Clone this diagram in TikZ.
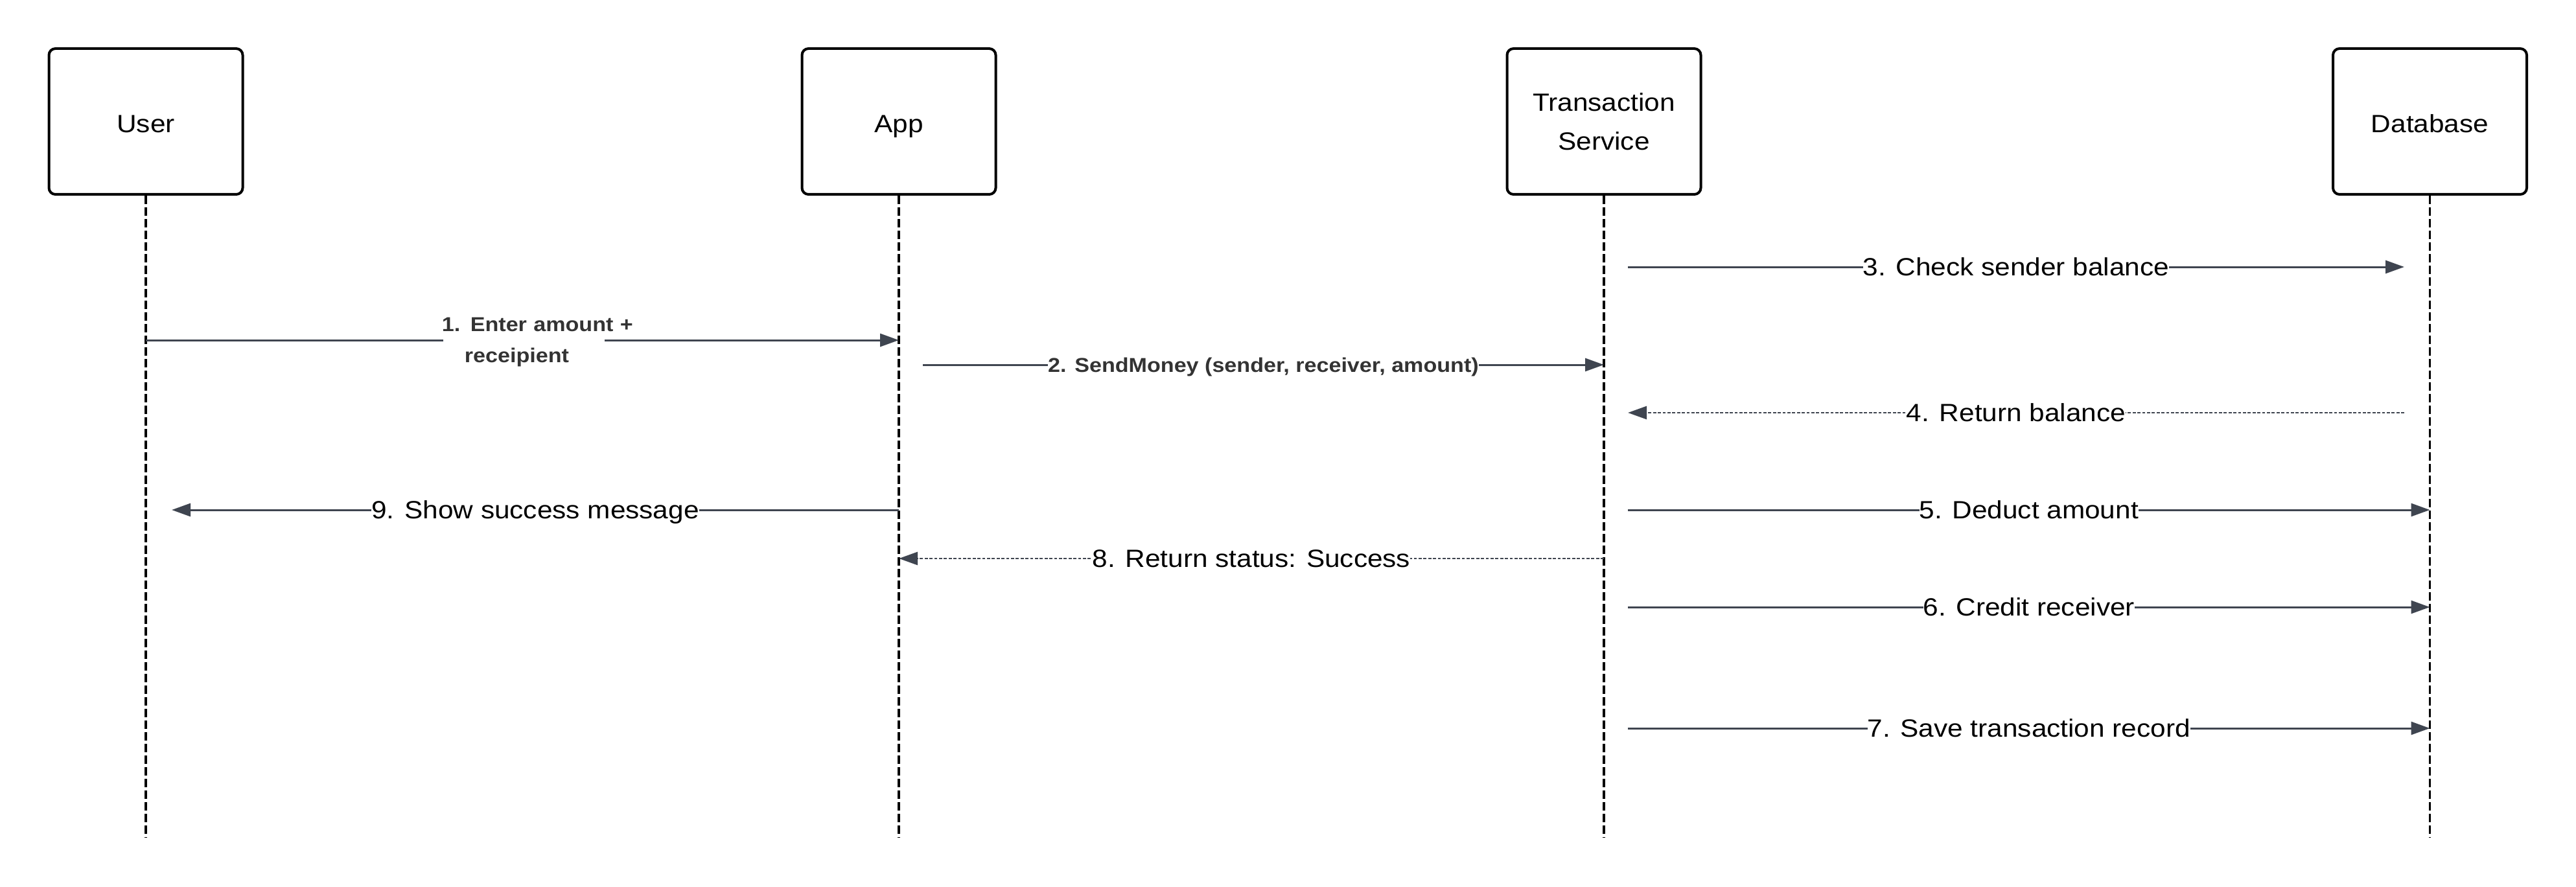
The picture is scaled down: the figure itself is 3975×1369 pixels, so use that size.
\documentclass[tikz,border=0pt]{standalone}
\usepackage{fontspec}
\setmainfont{Liberation Sans}[FakeStretch=1.1]
\usetikzlibrary{arrows.meta}
\definecolor{arr}{HTML}{3F4550}
\definecolor{lbltwo}{HTML}{333333}
\begin{document}
\begin{tikzpicture}[x=0.25pt,y=-0.25pt,
  actor/.style={draw=black, line width=1pt, rounded corners=2.5pt,
    minimum width=74.75pt, minimum height=56.25pt, inner sep=0pt,
    font=\fontsize{9.625}{15}\selectfont, align=center, text depth=0pt},
  oneline/.style={text height=8.65pt},
  life/.style={draw=black, line width=0.875pt, dash pattern=on 3.25pt off 1.25pt},
  msg/.style={draw=arr, line width=0.75pt, -{Triangle[length=7.25pt,width=5pt]}},
  ret/.style={msg, line width=0.7pt, dash pattern=on 1.2pt off 0.65pt},
  lab/.style={fill=white, inner sep=0pt, font=\fontsize{9.625}{12}\selectfont,
    text=black, anchor=base, yshift=-3.45pt},
  blab/.style={fill=white, inner sep=0pt, font=\fontsize{7.75}{12}\selectfont\bfseries,
    text=lbltwo, anchor=base, yshift=-2.77pt},
]
\path[fill=white] (0,0) rectangle (3975,1369);
\useasboundingbox (0,0) rectangle (3975,1369);

% participants
\node[actor, oneline] (user) at (225,187.5) {User};
\node[actor, oneline] (app) at (1387,187.5) {App};
\node[actor] (ts) at (2475,187.5) {Transaction\\Service};
\node[actor, oneline] (db) at (3749.5,187.5) {Database};

% lifeline ends
\coordinate (ue) at (225,1293);
\coordinate (ae) at (1387,1293);
\coordinate (te) at (2475,1293);
\coordinate (de) at (3749.5,1293);
\draw[life] (user.south) -- (ue);
\draw[life] (app.south) -- (ae);
\draw[life] (ts.south) -- (te);
\draw[life] (db.south) -- (de);

% message end points
\coordinate (m1a) at (225,525);    \coordinate (m1b) at (1387,525);
\coordinate (m2a) at (1424,563);   \coordinate (m2b) at (2475,563);
\coordinate (m3a) at (2512,412);   \coordinate (m3b) at (3710,412);
\coordinate (m4a) at (3710,637);   \coordinate (m4b) at (2512,637);
\coordinate (m5a) at (2512,787);   \coordinate (m5b) at (3749.5,787);
\coordinate (m6a) at (2512,937);   \coordinate (m6b) at (3749.5,937);
\coordinate (m7a) at (2512,1124);  \coordinate (m7b) at (3749.5,1124);
\coordinate (m8a) at (2475,862);   \coordinate (m8b) at (1387,862);
\coordinate (m9a) at (1387,787);   \coordinate (m9b) at (265,787);

% messages
\draw[msg] (m1a) -- (m1b) node[blab, pos=0.5, anchor=center, xshift=0.6pt, yshift=2.02pt,
  text width=62.25pt, align=left] (l1)
  {\makebox[0pt][l]{\hspace*{-0.5pt}1. Enter amount +}\\\hspace*{8.25pt}receipient};
\draw[msg] (m2a) -- (m2b) node[blab, pos=0.5] (l2) {2. SendMoney (sender, receiver, amount)};
\draw[msg] (m3a) -- (m3b) node[lab, pos=0.5] (l3) {3. Check sender balance};
\draw[ret] (m4a) -- (m4b) node[lab, pos=0.5] (l4) {4. Return balance};
\draw[msg] (m5a) -- (m5b) node[lab, pos=0.5] (l5) {5. Deduct amount};
\draw[msg] (m6a) -- (m6b) node[lab, pos=0.5] (l6) {6. Credit receiver};
\draw[msg] (m7a) -- (m7b) node[lab, pos=0.5] (l7) {7. Save transaction record};
\draw[ret] (m8a) -- (m8b) node[lab, pos=0.5] (l8) {8. Return status: Success};
\draw[msg] (m9a) -- (m9b) node[lab, pos=0.5] (l9) {9. Show success message};
\end{tikzpicture}
\end{document}
